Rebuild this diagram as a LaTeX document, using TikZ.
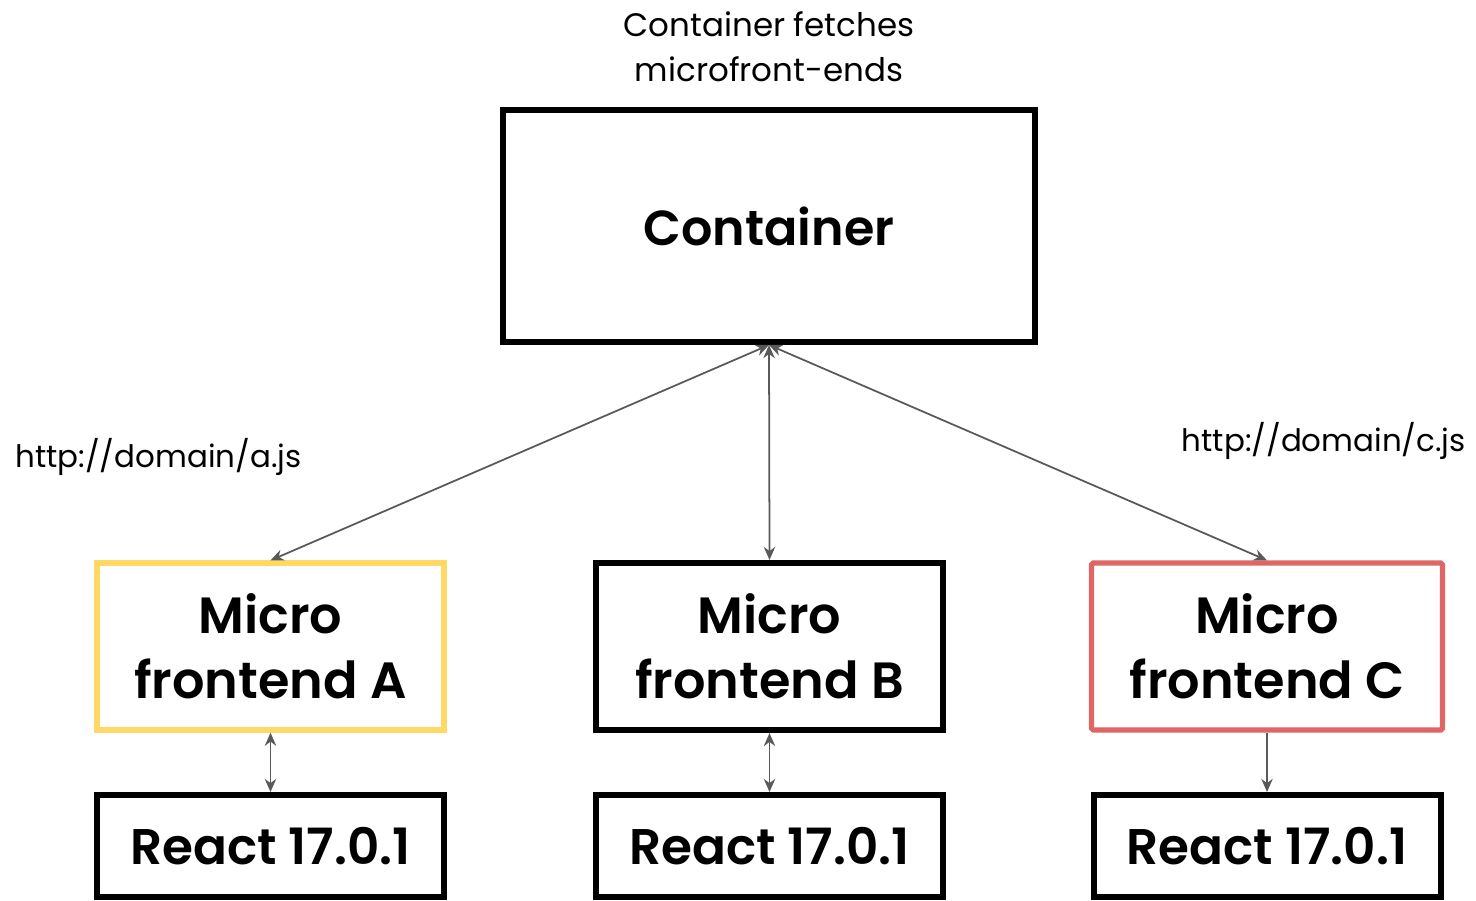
\documentclass[tikz,border=0pt]{standalone}
\usepackage{fontspec}
\setmainfont{Poppins}[BoldFont={Poppins SemiBold}]
\usetikzlibrary{arrows.meta}
\definecolor{myyellow}{HTML}{FFD966}
\definecolor{myred}{HTML}{E06666}
\definecolor{mygray}{HTML}{595959}
\tikzset{
  box/.style={draw=black, line width=3.4pt, fill=white, align=center, inner sep=0pt,
    font=\fontsize{29}{37}\selectfont\bfseries},
  conn/.style={draw=mygray, line width=1pt, {Stealth[length=7.5pt,width=6.5pt]}-{Stealth[length=7.5pt,width=6.5pt]}},
  conn1/.style={draw=mygray, line width=1pt, -{Stealth[length=7.5pt,width=6.5pt]}},
  lbl/.style={font=\fontsize{18.5}{25.5}\selectfont, align=center, inner sep=0pt},
  url/.style={font=\fontsize{17.6}{24}\selectfont, inner sep=0pt}
}
\begin{document}
\begin{tikzpicture}[x=0.02cm,y=-0.02cm]
\useasboundingbox (0,0) rectangle (1476,900);
\node[box, minimum width=532*0.02cm, minimum height=232*0.02cm, font=\fontsize{28}{34}\selectfont\bfseries] (cont) at (769,226) {Container};
\node[box, draw=myyellow, line width=3pt, minimum width=347*0.02cm, minimum height=167*0.02cm] (mA) at (270.5,646.5) {Micro\\frontend A};
\node[box, minimum width=347*0.02cm, minimum height=167*0.02cm] (mB) at (769.5,646.5) {Micro\\frontend B};
\node[box, draw=myred, line width=3pt, rounded corners=1pt, minimum width=351*0.02cm, minimum height=167*0.02cm] (mC) at (1267,646.5) {Micro\\frontend C};
\node[box, minimum width=347*0.02cm, minimum height=102*0.02cm, font=\fontsize{28.5}{34}\selectfont\bfseries] (rA) at (270.5,846) {React 17.0.1};
\node[box, minimum width=347*0.02cm, minimum height=102*0.02cm, font=\fontsize{28.5}{34}\selectfont\bfseries] (rB) at (769.5,846) {React 17.0.1};
\node[box, minimum width=347*0.02cm, minimum height=102*0.02cm, font=\fontsize{28.5}{34}\selectfont\bfseries] (rC) at (1267,846) {React 17.0.1};
\node[lbl] (title) at (769,47) {Container fetches\\microfront-ends};
\node[url, anchor=west] (la) at (15,457) {http://domain/a.js};
\node[url, anchor=east] (lc) at (1466,441) {http://domain/c.js};
\draw[conn] (cont.south) -- (mA.north);
\draw[conn] (cont.south) -- (mB.north);
\draw[conn] (cont.south) -- (mC.north);
\draw[conn] (mA.south) -- (rA.north);
\draw[conn] (mB.south) -- (rB.north);
\draw[conn1] (mC.south) -- (rC.north);
\end{tikzpicture}
\end{document}
